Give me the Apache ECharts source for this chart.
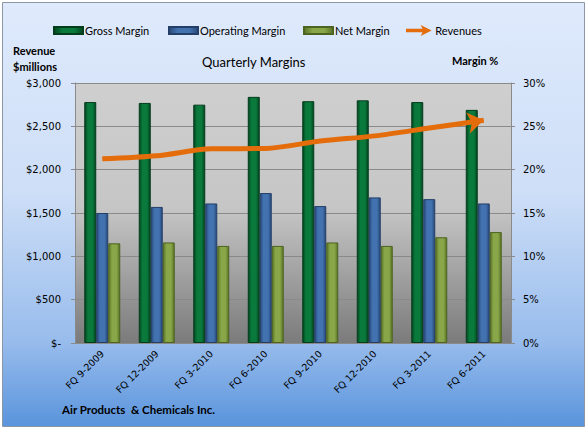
<!DOCTYPE html>
<html>
<head>
<meta charset="utf-8">
<script src="https://cdn.jsdelivr.net/npm/echarts@6/dist/echarts.min.js"></script>
<style>
  html, body { margin: 0; padding: 0; background: #fff; }
  #chart { width: 587px; height: 430px; }
</style>
</head>
<body>
<div id="chart"></div>
<script>
var categories = ['FQ 9-2009', 'FQ 12-2009', 'FQ 3-2010', 'FQ 6-2010', 'FQ 9-2010', 'FQ 12-2010', 'FQ 3-2011', 'FQ 6-2011'];
var grossMargin = [27.8, 27.7, 27.5, 28.4, 27.9, 28.0, 27.8, 26.9];
var operatingMargin = [15.0, 15.7, 16.1, 17.3, 15.8, 16.8, 16.6, 16.1];
var netMargin = [11.5, 11.6, 11.2, 11.2, 11.6, 11.2, 12.2, 12.8];
var revenues = [2125, 2160, 2240, 2245, 2330, 2390, 2480, 2570];

var uiFont = 'Lato';
var axisFont = 'DejaVu Sans';

function barGradient(edge, mid) {
	return new echarts.graphic.LinearGradient(0, 0, 1, 0, [
		{ offset: 0, color: edge },
		{ offset: 0.3, color: mid },
		{ offset: 0.7, color: mid },
		{ offset: 1, color: edge }
	]);
}

function barSeries(name, data, edge, mid, border) {
	return {
		name: name,
		type: 'bar',
		yAxisIndex: 1,
		barWidth: 12,
		barGap: '0%',
		data: data,
		itemStyle: {
			color: barGradient(edge, mid),
			borderColor: border,
			borderWidth: 1
		}
	};
}

// one legend per item so each sits where the original puts it
function legendItem(name, left, icon, h) {
	return {
		left: left,
		top: 20,
		itemWidth: 29,
		itemHeight: h,
		icon: icon,
		textStyle: { fontFamily: uiFont, fontSize: 11, color: '#000', padding: [0, 0, 0, -3] },
		data: [name]
	};
}

// revenue line, arrow head on the last point
var revData = [];
for (var i = 0; i < revenues.length; i++) {
	if (i == revenues.length - 1) {
		revData.push({ value: revenues[i], symbol: 'arrow', symbolSize: [16, 16], symbolRotate: -80 });
	} else {
		revData.push({ value: revenues[i], symbol: 'none' });
	}
}

var chart = echarts.init(document.getElementById('chart'), null, { renderer: 'svg' });

var option = {
	backgroundColor: '#ffffff',
	animation: false,
	graphic: [
		{
			type: 'rect', z: -10, silent: true,
			shape: { x: 2.5, y: 2.5, width: 582, height: 424 },
			style: {
				fill: new echarts.graphic.LinearGradient(0, 0, 0, 1, [
					{ offset: 0, color: '#dfeafc' },
					{ offset: 0.45, color: '#cddef7' },
					{ offset: 0.8, color: '#98bcec' },
					{ offset: 1, color: '#5a94dc' }
				]),
				stroke: '#8c96a4', lineWidth: 1
			}
		},
		{ type: 'text', left: 13, top: 45, style: { text: 'Revenue', font: 'bold 11px ' + uiFont, fill: '#000' } },
		{ type: 'text', left: 13, top: 61, style: { text: '$millions', font: 'bold 11px ' + uiFont, fill: '#000' } },
		{ type: 'text', left: 452, top: 55, style: { text: 'Margin %', font: 'bold 11px ' + uiFont, fill: '#000' } },
		{ type: 'text', left: 202, top: 55, style: { text: 'Quarterly Margins', font: '13px ' + uiFont, fill: '#000' } },
		{ type: 'text', left: 62, top: 403, style: { text: 'Air Products  & Chemicals Inc.', font: 'bold 11.5px ' + uiFont, fill: '#000' } }
	],
	legend: [
		legendItem('Gross Margin', 48, 'rect', 7),
		legendItem('Operating Margin', 163, 'rect', 7),
		legendItem('Net Margin', 298, 'rect', 7),
		legendItem('Revenues', 401, 'path://M0,4 L18,4 L16,0 L28,6 L16,12 L18,8 L0,8 Z', 11)
	],
	grid: {
		left: 75,
		right: 76,
		top: 83,
		bottom: 87,
		show: true,
		borderWidth: 0,
		backgroundColor: new echarts.graphic.LinearGradient(0, 0, 0, 1, [
			{ offset: 0, color: '#cfcfcf' },
			{ offset: 0.48, color: '#c6c6c6' },
			{ offset: 1, color: '#7b7b7b' }
		])
	},
	xAxis: {
		type: 'category',
		data: categories,
		axisLine: { lineStyle: { color: '#8a8a8a' } },
		axisTick: { show: false },
		axisLabel: {
			rotate: 45,
			interval: 0,
			margin: 9,
			fontFamily: axisFont,
			fontSize: 9.5,
			color: '#000'
		}
	},
	yAxis: [
		{
			type: 'value',
			min: 0,
			max: 3000,
			interval: 500,
			axisLine: { show: true, lineStyle: { color: '#8a8a8a' } },
			axisTick: { show: true, length: 4, lineStyle: { color: '#8a8a8a' } },
			splitLine: { lineStyle: { color: '#8a8a8a' } },
			axisLabel: {
				margin: 14,
				fontFamily: axisFont,
				fontSize: 10,
				color: '#000',
				formatter: function (v) {
					if (v == 0) return '$-';
					return '$' + v.toLocaleString('en-US');
				}
			}
		},
		{
			type: 'value',
			min: 0,
			max: 30,
			interval: 5,
			axisLine: { show: true, lineStyle: { color: '#8a8a8a' } },
			axisTick: { show: true, length: 4, lineStyle: { color: '#8a8a8a' } },
			splitLine: { show: false },
			axisLabel: {
				margin: 12,
				fontFamily: axisFont,
				fontSize: 10,
				color: '#000',
				formatter: '{value}%'
			}
		}
	],
	series: [
		barSeries('Gross Margin', grossMargin, '#03461f', '#0a7a3c', '#033d1c'),
		barSeries('Operating Margin', operatingMargin, '#284a7a', '#4272b0', '#233f68'),
		barSeries('Net Margin', netMargin, '#5a7426', '#89a649', '#4d6420'),
		{
			name: 'Revenues',
			type: 'line',
			yAxisIndex: 0,
			smooth: 0.3,
			symbol: 'none',
			data: revData,
			z: 5,
			lineStyle: { color: '#e46c0a', width: 5, cap: 'butt' },
			itemStyle: { color: '#e46c0a' }
		}
	]
};

chart.setOption(option);
</script>
</body>
</html>
